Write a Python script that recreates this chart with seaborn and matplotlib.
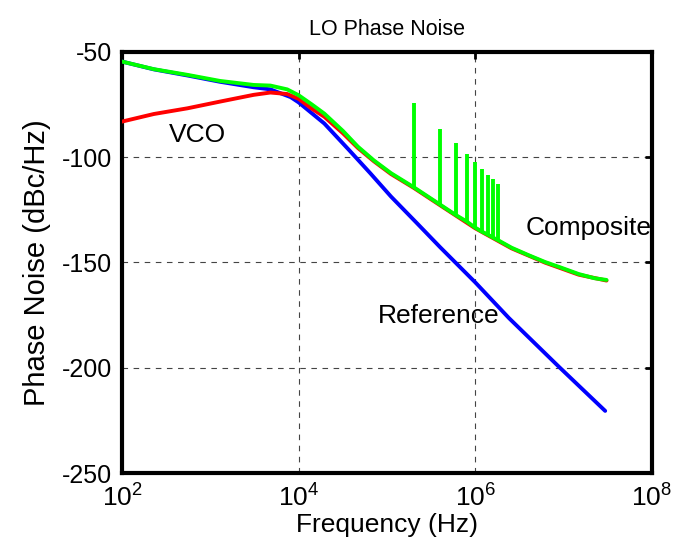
import matplotlib
matplotlib.use("Agg")
import matplotlib.pyplot as plt
import numpy as np
import pandas as pd
import seaborn as sns

# values (frequency as log10(Hz), noise in dBc/Hz)
ref_logf = [2.0, 2.36, 2.74, 3.11, 3.49, 3.68, 3.91, 4.0, 4.29, 4.57, 4.81,
            5.045, 5.34, 5.6, 6.0, 6.38, 6.95, 7.47]
ref_pn = [-54.6, -58.3, -61.2, -64.2, -66.8, -67.8, -71.5, -74.0, -84.0, -96.6,
          -107.6, -118.7, -131.4, -142.7, -159.5, -176.4, -199.7, -220.5]

vco_logf = [2.0, 2.36, 2.74, 3.11, 3.49, 3.68, 3.87, 4.0, 4.15, 4.29, 4.5, 4.67,
            4.85, 5.045, 5.3, 5.6, 6.0, 6.41, 6.79, 7.17, 7.485]
vco_pn = [-83.1, -79.5, -76.8, -73.6, -70.4, -69.3, -70.0, -72.3, -77.0, -80.8,
          -88.6, -95.6, -101.9, -108.0, -114.5, -122.8, -133.8, -143.3, -150.1,
          -155.8, -158.6]

comp_logf = [2.0, 2.36, 2.74, 3.11, 3.49, 3.68, 3.87, 4.0, 4.15, 4.29, 4.5, 4.67,
             4.85, 5.045, 5.3, 5.6, 5.78, 5.9, 6.0, 6.08, 6.15, 6.2, 6.26, 6.41,
             6.6, 6.79, 6.98, 7.17, 7.35, 7.485]
comp_pn = [-54.6, -58.2, -60.9, -63.8, -65.7, -66.0, -67.8, -70.6, -75.0, -79.3,
           -87.5, -95.0, -101.5, -107.6, -114.2, -122.5, -127.5, -130.5, -133.5,
           -135.5, -137.0, -138.2, -139.5, -143.0, -146.5, -149.8, -152.6, -155.5,
           -157.5, -158.3]

# reference spurs at 200 kHz harmonics
spur_f = [2e5, 4e5, 6e5, 8e5, 1e6, 1.2e6, 1.4e6, 1.6e6, 1.8e6]
spur_base = [-114.2, -122.5, -127.5, -130.5, -133.5, -135.5, -137.0, -138.2, -139.5]
spur_top = [-74.5, -86.6, -93.4, -98.4, -102.5, -105.7, -108.6, -110.4, -112.6]

sns.set_theme(style="white")
plt.rcParams['font.family'] = ['Liberation Sans', 'DejaVu Sans']
plt.rcParams['mathtext.fontset'] = 'custom'
plt.rcParams['mathtext.rm'] = 'Liberation Sans'
plt.rcParams['axes.unicode_minus'] = False
plt.rcParams['text.color'] = 'black'
plt.rcParams['axes.labelcolor'] = 'black'

df_ref = pd.DataFrame({'f': 10 ** np.array(ref_logf), 'pn': ref_pn})
df_vco = pd.DataFrame({'f': 10 ** np.array(vco_logf), 'pn': vco_pn})
df_comp = pd.DataFrame({'f': 10 ** np.array(comp_logf), 'pn': comp_pn})

fig, ax = plt.subplots(figsize=(6.76, 5.58), dpi=100)
fig.subplots_adjust(left=0.1805, right=0.9645, top=0.907, bottom=0.1523)

lw = 2.8
sns.lineplot(data=df_ref, x='f', y='pn', ax=ax, color='#0000ff', lw=lw, zorder=3)
sns.lineplot(data=df_vco, x='f', y='pn', ax=ax, color='#ff0000', lw=lw, zorder=4)
sns.lineplot(data=df_comp, x='f', y='pn', ax=ax, color='#00ff00', lw=lw, zorder=5)
ax.vlines(spur_f, spur_base, spur_top, color='#00ff00', lw=lw, zorder=5)

ax.set_xscale('log')
ax.set_xlim(1e2, 1e8)
ax.set_ylim(-250, -50)
ax.set_xticks([1e2, 1e4, 1e6, 1e8])
ax.set_xticklabels([r'$10^{2}$', r'$10^{4}$', r'$10^{6}$', r'$10^{8}$'])
ax.set_yticks([-250, -200, -150, -100, -50])
ax.minorticks_off()

ax.grid(True, color='#444444', linestyle=(0, (5, 5)), linewidth=0.8)
for s in ax.spines.values():
    s.set_linewidth(3)
    s.set_color('black')
ax.tick_params(direction='in', length=5, width=2, top=True, right=True,
               labelsize=18, colors='black', pad=7)
ax.tick_params(axis='x', labelsize=19)

ax.set_title('LO Phase Noise', fontsize=15.5, pad=12, color='black')
ax.set_xlabel('Frequency (Hz)', fontsize=19, labelpad=2)
ax.set_ylabel('Phase Noise (dBc/Hz)', fontsize=21, labelpad=8)

ax.text(10 ** 2.85, -92.8, 'VCO', fontsize=19, ha='center', va='baseline', zorder=6)
ax.text(10 ** 5.59, -178.7, 'Reference', fontsize=19, ha='center', va='baseline', zorder=6)
ax.text(10 ** 7.28, -136.9, 'Composite', fontsize=19, ha='center', va='baseline', zorder=6)

fig.savefig('out.png', dpi=100)
